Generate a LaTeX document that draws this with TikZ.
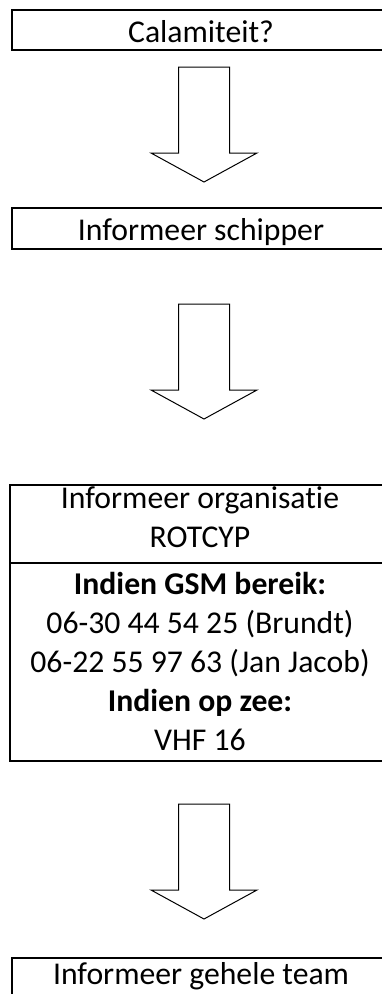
\documentclass[tikz,border=0pt]{standalone}
\usepackage{fontspec}
\setmainfont{Carlito}[Ligatures={NoCommon}]
\usetikzlibrary{positioning}

\tikzset{
    stepbox/.style={draw, line width=1.5pt, outer sep=0pt, inner sep=0pt,
        minimum width=378pt, align=center, anchor=north,
        font=\fontsize{31.7}{39}\selectfont},
    blockarrow/.style={draw, line width=1pt, fill=white, line join=miter},
}

\begin{document}
\begin{tikzpicture}[x=1pt, y=-1pt]

    \pgfmathsetmacro{\cx}{201}
    \pgfmathsetmacro{\shaft}{25.5}
    \pgfmathsetmacro{\wing}{53}

    \useasboundingbox (0,0) rectangle (382,994);
    \clip (0,0) rectangle (382,994);

    \node[stepbox, text height=32pt, text depth=8pt] (calamiteit) at (\cx,10) {Calamiteit?};
    \node[stepbox, text height=32pt, text depth=9pt] (schipper) at (\cx,208) {Informeer schipper};

    \node[stepbox, minimum width=380pt, text height=62pt, text depth=16pt] (organisatie) at (\cx-1,485)
        {Informeer organisatie\\ROTCYP};
    \node[stepbox, minimum width=380pt, text height=187pt, text depth=11pt, below=0pt of organisatie] (bereik)
        {\textbf{Indien GSM bereik:}\\06-30 44 54 25 (Brundt)\\06-22 55 97 63 (Jan Jacob)\\\textbf{Indien op zee:}\\VHF 16};

    \node[stepbox, text height=26pt, text depth=15pt] (team) at (\cx,958) {Informeer gehele team};

    % block arrows between the steps
    \foreach \ytop in {67, 304, 804} {
        \draw[blockarrow]
            (204-\shaft,\ytop) -- (204+\shaft,\ytop) -- (204+\shaft,\ytop+86)
            -- (204+\wing,\ytop+86) -- (204,\ytop+115) -- (204-\wing,\ytop+86)
            -- (204-\shaft,\ytop+86) -- cycle;
    }

\end{tikzpicture}
\end{document}
